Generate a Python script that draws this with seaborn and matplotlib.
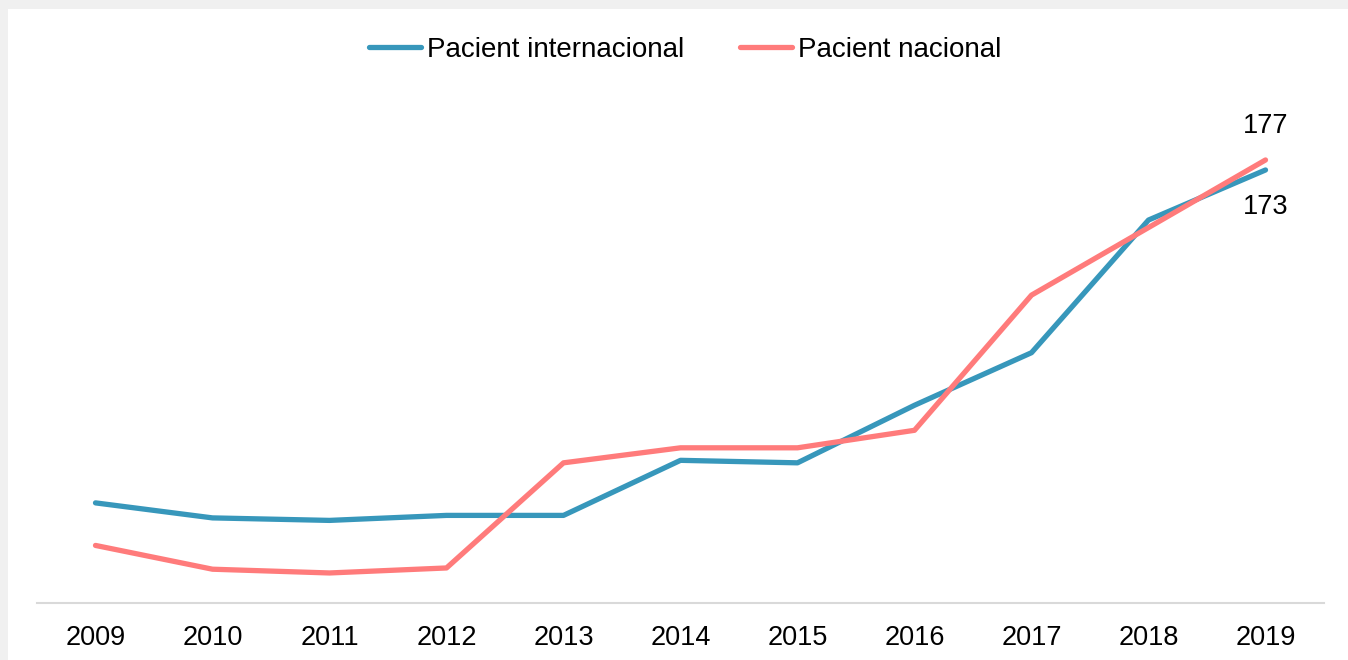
import matplotlib.pyplot as plt
import pandas as pd
import seaborn as sns
from matplotlib.patches import Rectangle

YEARS = [2009, 2010, 2011, 2012, 2013, 2014, 2015, 2016, 2017, 2018, 2019]
INTERNACIONAL = [40, 34, 33, 35, 35, 57, 56, 79, 100, 153, 173]
NACIONAL = [23, 13.5, 12, 14, 56, 62, 62, 69, 123, 150, 177]
SERIES_NAMES = ["Pacient internacional", "Pacient nacional"]
COLORS = ["#3797BB", "#FF7B7B"]


def build_frame() -> pd.DataFrame:
    frames = []
    for name, values in zip(SERIES_NAMES, [INTERNACIONAL, NACIONAL]):
        frames.append(pd.DataFrame({"year": YEARS, "value": values, "serie": name}))
    return pd.concat(frames, ignore_index=True)


def main() -> None:
    sns.set_theme(style="white")
    plt.rcParams["font.family"] = ["Liberation Sans", "DejaVu Sans"]
    plt.rcParams["text.color"] = "black"
    plt.rcParams["xtick.color"] = "black"

    df = build_frame()

    fig = plt.figure(figsize=(13.48, 6.60), dpi=100)
    fig.patch.set_facecolor("#F0F0F0")
    fig.add_artist(Rectangle((8 / 1348, 0), 1, 651 / 660, transform=fig.transFigure,
                             facecolor="white", edgecolor="none", zorder=0))

    ax = fig.add_axes([37 / 1348, 57 / 660, (1324 - 37) / 1348, (603 - 102.4) / 660])
    ax.set_facecolor("none")

    sns.lineplot(
        data=df,
        x="year",
        y="value",
        hue="serie",
        palette=dict(zip(SERIES_NAMES, COLORS)),
        linewidth=3.8,
        solid_capstyle="round",
        legend=False,
        ax=ax,
    )

    ax.set_xlim(2008.5, 2019.5)
    ax.set_ylim(0, 200)
    ax.set_xticks(YEARS)
    ax.set_xticklabels([str(y) for y in YEARS])
    ax.set_yticks([])
    ax.set_xlabel("")
    ax.set_ylabel("")
    ax.tick_params(axis="x", length=0, pad=15.5, labelsize=19.5, labelcolor="black")
    for side in ["top", "right", "left"]:
        ax.spines[side].set_visible(False)
    ax.spines["bottom"].set_color("#D9D9D9")
    ax.spines["bottom"].set_linewidth(1.5)

    ax.annotate(str(NACIONAL[-1]), (YEARS[-1], NACIONAL[-1]), xytext=(0, 24.5),
                textcoords="offset points", ha="center", va="center", fontsize=19.5,
                color="black")
    ax.annotate(str(INTERNACIONAL[-1]), (YEARS[-1], INTERNACIONAL[-1]), xytext=(0, -26.5),
                textcoords="offset points", ha="center", va="center", fontsize=19.5,
                color="black")

    handles = [plt.Line2D([], [], color=c, linewidth=3.8, solid_capstyle="round") for c in COLORS]
    leg = fig.legend(
        handles,
        SERIES_NAMES,
        loc="center",
        bbox_to_anchor=(685 / 1348, 1 - 50 / 660),
        ncol=2,
        frameon=False,
        fontsize=20,
        handlelength=1.9,
        handletextpad=0.2,
        columnspacing=2.0,
    )
    for text in leg.get_texts():
        text.set_color("black")

    fig.savefig("out.png", dpi=100, facecolor=fig.get_facecolor())
    plt.close(fig)


if __name__ == "__main__":
    main()
